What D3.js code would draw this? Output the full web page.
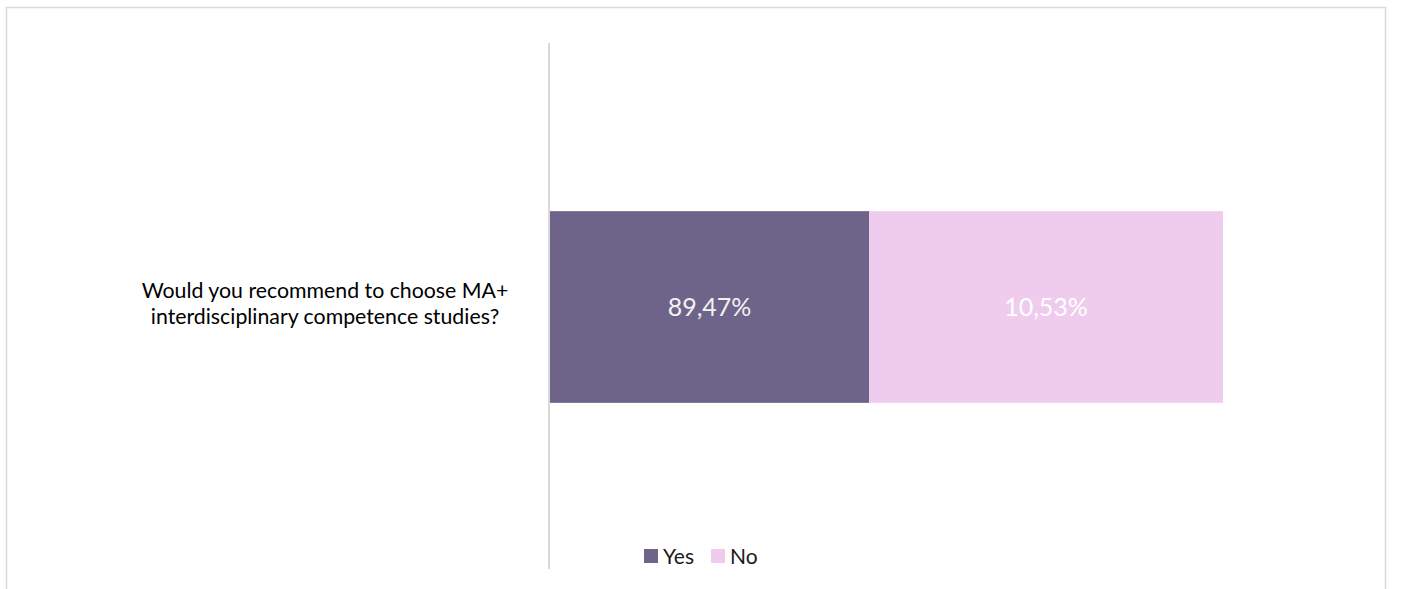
<!DOCTYPE html>
<html>
<head>
<meta charset="utf-8">
<script src="https://cdn.jsdelivr.net/npm/d3@7"></script>
<style>
  html, body { margin: 0; padding: 0; background: #ffffff; }
  svg { display: block; }
  text { font-family: Lato, "Open Sans", sans-serif; }
</style>
</head>
<body>
<svg id="chart" width="1402" height="589"></svg>
<script>
// ---- data ----
const categories = ["Would you recommend to choose MA+\ninterdisciplinary competence studies?"];
const seriesNames = ["Yes", "No"];
// bar extents as drawn (share of the drawn bar length)
const yesValues = [47.4];
const noValues = [52.6];
// data labels as printed on the bars
const yesLabels = ["89,47%"];
const noLabels = ["10,53%"];

const colors = { Yes: "#6e6489", No: "#efcbed" };

const svg = d3.select("#chart");

// outer chart border
svg.append("rect")
  .attr("x", 6.5).attr("y", 7.5)
  .attr("width", 1379).attr("height", 640)
  .attr("fill", "#ffffff")
  .attr("stroke", "#d9d9d9").attr("stroke-width", 1.5);

const plot = { left: 549, right: 1360, top: 43, bottom: 569 };

const x = d3.scaleLinear().domain([0, 100]).range([550, 1223]);
const y = d3.scaleBand().domain(categories).range([plot.top + 1, plot.bottom + 1])
  .paddingInner(0).paddingOuter(0.872);

const stackData = categories.map((c, i) => ({ cat: c, Yes: yesValues[i], No: noValues[i] }));
const stack = d3.stack().keys(seriesNames)(stackData);
const labelSets = { Yes: yesLabels, No: noLabels };
const labelColors = { Yes: "#f2f2f2", No: "#ffffff" };

const g = svg.append("g");
stack.forEach(layer => {
  const key = layer.key;
  g.selectAll(null).data(layer).enter().append("rect")
    .attr("x", d => x(d[0]))
    .attr("y", d => y(d.data.cat))
    .attr("width", d => x(d[1]) - x(d[0]))
    .attr("height", y.bandwidth())
    .attr("fill", colors[key]);
  g.selectAll(null).data(layer).enter().append("text")
    .attr("x", d => (x(d[0]) + x(d[1])) / 2)
    .attr("y", d => y(d.data.cat) + y.bandwidth() / 2)
    .attr("dy", "0.35em")
    .attr("text-anchor", "middle")
    .attr("font-size", 25)
    .attr("fill", labelColors[key])
    .text((d, i) => labelSets[key][i]);
});

// vertical category axis line
const yAxis = d3.axisLeft(y).tickSize(0).tickFormat("");
const ya = svg.append("g").attr("transform", `translate(${plot.left},0)`).call(yAxis);
ya.select(".domain").attr("stroke", "#d9d9d9").attr("stroke-width", 2)
  .attr("d", `M0,${plot.top}V${plot.bottom}`);

// category labels (wrapped, centered)
categories.forEach(c => {
  const lines = c.split("\n");
  const cy = y(c) + y.bandwidth() / 2;
  const t = svg.append("text")
    .attr("text-anchor", "middle")
    .attr("font-size", 21.3)
    .attr("fill", "#000000");
  lines.forEach((ln, i) => {
    t.append("tspan")
      .attr("x", 325)
      .attr("y", cy - 9 + i * 26)
      .text(ln);
  });
});

// legend
const legend = svg.append("g").attr("transform", "translate(644,549)");
const legItems = [{ k: "Yes", x: 0 }, { k: "No", x: 67 }];
legItems.forEach(it => {
  legend.append("rect").attr("x", it.x).attr("y", 0).attr("width", 14).attr("height", 14)
    .attr("fill", colors[it.k]);
  legend.append("text").attr("x", it.x + 19).attr("y", 14.5)
    .attr("font-size", 21).attr("fill", "#1a1a1a").text(it.k);
});
</script>
</body>
</html>
